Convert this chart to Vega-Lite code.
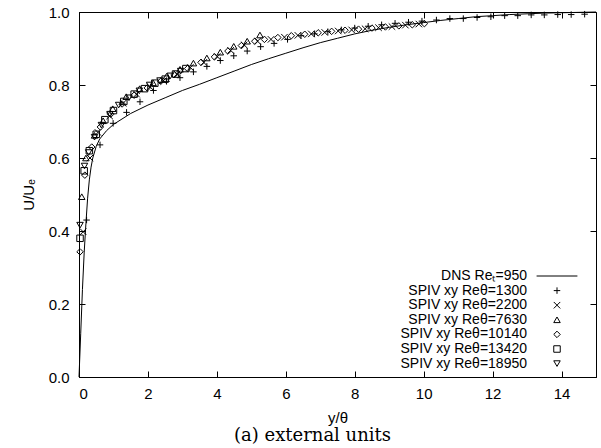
{
  "$schema": "https://vega.github.io/schema/vega-lite/v6.json",
  "width": 517,
  "height": 365,
  "autosize": "none",
  "padding": {"left": 79, "top": 12, "right": 5, "bottom": 71},
  "background": "white",
  "config": {
    "view": {"stroke": "black", "strokeWidth": 1},
    "font": "Liberation Sans",
    "axis": {
      "grid": false,
      "domainColor": "black",
      "tickColor": "black",
      "tickSize": -6,
      "tickWidth": 1,
      "labelFont": "Liberation Sans",
      "labelFontSize": 15,
      "labelColor": "black",
      "titleFont": "Liberation Sans",
      "titleFontSize": 15,
      "titleFontWeight": "normal",
      "titleColor": "black",
      "labelPadding": 10
    }
  },
  "title": {
    "text": "(a) external units",
    "orient": "bottom",
    "font": "DejaVu Serif",
    "fontSize": 18,
    "fontWeight": "normal",
    "color": "black",
    "dx": -25,
    "offset": 2
  },
  "datasets": {
    "dns": [
      {"x": 0, "u": 0}, {"x": 0.05, "u": 0.12}, {"x": 0.1, "u": 0.24}, {"x": 0.15, "u": 0.34},
      {"x": 0.2, "u": 0.42}, {"x": 0.25, "u": 0.49}, {"x": 0.3, "u": 0.54}, {"x": 0.35, "u": 0.575},
      {"x": 0.4, "u": 0.6}, {"x": 0.5, "u": 0.632}, {"x": 0.6, "u": 0.652}, {"x": 0.8, "u": 0.675},
      {"x": 1.0, "u": 0.692}, {"x": 1.5, "u": 0.722}, {"x": 2, "u": 0.745}, {"x": 2.5, "u": 0.765},
      {"x": 3, "u": 0.785}, {"x": 3.5, "u": 0.802}, {"x": 4, "u": 0.82}, {"x": 4.5, "u": 0.838},
      {"x": 5, "u": 0.856}, {"x": 5.5, "u": 0.872}, {"x": 6, "u": 0.887}, {"x": 6.5, "u": 0.902},
      {"x": 7, "u": 0.916}, {"x": 7.5, "u": 0.928}, {"x": 8, "u": 0.94}, {"x": 8.5, "u": 0.95},
      {"x": 9, "u": 0.958}, {"x": 9.5, "u": 0.965}, {"x": 10, "u": 0.971}, {"x": 10.5, "u": 0.977},
      {"x": 11, "u": 0.982}, {"x": 11.5, "u": 0.987}, {"x": 12, "u": 0.99}, {"x": 12.5, "u": 0.993},
      {"x": 13, "u": 0.995}, {"x": 13.5, "u": 0.997}, {"x": 14, "u": 0.998}, {"x": 14.5, "u": 0.999},
      {"x": 15, "u": 1.0}
    ],
    "spiv": [
      {"s": "SPIV xy Reθ=1300", "x": 0.22, "u": 0.43},
      {"s": "SPIV xy Reθ=1300", "x": 0.61, "u": 0.636},
      {"s": "SPIV xy Reθ=1300", "x": 0.99, "u": 0.695},
      {"s": "SPIV xy Reθ=1300", "x": 1.38, "u": 0.725},
      {"s": "SPIV xy Reθ=1300", "x": 1.77, "u": 0.754},
      {"s": "SPIV xy Reθ=1300", "x": 2.16, "u": 0.785},
      {"s": "SPIV xy Reθ=1300", "x": 2.54, "u": 0.81},
      {"s": "SPIV xy Reθ=1300", "x": 2.93, "u": 0.82},
      {"s": "SPIV xy Reθ=1300", "x": 3.32, "u": 0.836},
      {"s": "SPIV xy Reθ=1300", "x": 3.71, "u": 0.851},
      {"s": "SPIV xy Reθ=1300", "x": 4.1, "u": 0.867},
      {"s": "SPIV xy Reθ=1300", "x": 4.49, "u": 0.88},
      {"s": "SPIV xy Reθ=1300", "x": 4.88, "u": 0.893},
      {"s": "SPIV xy Reθ=1300", "x": 5.27, "u": 0.905},
      {"s": "SPIV xy Reθ=1300", "x": 5.66, "u": 0.914},
      {"s": "SPIV xy Reθ=1300", "x": 6.05, "u": 0.925},
      {"s": "SPIV xy Reθ=1300", "x": 6.44, "u": 0.935},
      {"s": "SPIV xy Reθ=1300", "x": 6.83, "u": 0.94},
      {"s": "SPIV xy Reθ=1300", "x": 7.22, "u": 0.946},
      {"s": "SPIV xy Reθ=1300", "x": 7.61, "u": 0.951},
      {"s": "SPIV xy Reθ=1300", "x": 8.0, "u": 0.956},
      {"s": "SPIV xy Reθ=1300", "x": 8.39, "u": 0.961},
      {"s": "SPIV xy Reθ=1300", "x": 8.78, "u": 0.965},
      {"s": "SPIV xy Reθ=1300", "x": 9.17, "u": 0.969},
      {"s": "SPIV xy Reθ=1300", "x": 9.56, "u": 0.972},
      {"s": "SPIV xy Reθ=1300", "x": 9.95, "u": 0.975},
      {"s": "SPIV xy Reθ=1300", "x": 10.37, "u": 0.978},
      {"s": "SPIV xy Reθ=1300", "x": 10.76, "u": 0.982},
      {"s": "SPIV xy Reθ=1300", "x": 11.15, "u": 0.982},
      {"s": "SPIV xy Reθ=1300", "x": 11.55, "u": 0.985},
      {"s": "SPIV xy Reθ=1300", "x": 11.95, "u": 0.987},
      {"s": "SPIV xy Reθ=1300", "x": 12.35, "u": 0.99},
      {"s": "SPIV xy Reθ=1300", "x": 12.73, "u": 0.99},
      {"s": "SPIV xy Reθ=1300", "x": 13.12, "u": 0.992},
      {"s": "SPIV xy Reθ=1300", "x": 13.5, "u": 0.992},
      {"s": "SPIV xy Reθ=1300", "x": 13.89, "u": 0.993},
      {"s": "SPIV xy Reθ=1300", "x": 14.28, "u": 0.993},
      {"s": "SPIV xy Reθ=1300", "x": 14.67, "u": 0.994},

      {"s": "SPIV xy Reθ=2200", "x": 0.12, "u": 0.398},
      {"s": "SPIV xy Reθ=2200", "x": 0.32, "u": 0.6},
      {"s": "SPIV xy Reθ=2200", "x": 0.55, "u": 0.67},
      {"s": "SPIV xy Reθ=2200", "x": 0.89, "u": 0.715},
      {"s": "SPIV xy Reθ=2200", "x": 1.28, "u": 0.75},
      {"s": "SPIV xy Reθ=2200", "x": 1.67, "u": 0.775},
      {"s": "SPIV xy Reθ=2200", "x": 2.06, "u": 0.795},
      {"s": "SPIV xy Reθ=2200", "x": 2.45, "u": 0.812},
      {"s": "SPIV xy Reθ=2200", "x": 2.84, "u": 0.83},
      {"s": "SPIV xy Reθ=2200", "x": 3.23, "u": 0.848},
      {"s": "SPIV xy Reθ=2200", "x": 3.62, "u": 0.862},
      {"s": "SPIV xy Reθ=2200", "x": 4.01, "u": 0.878},
      {"s": "SPIV xy Reθ=2200", "x": 4.4, "u": 0.895},
      {"s": "SPIV xy Reθ=2200", "x": 4.79, "u": 0.91},
      {"s": "SPIV xy Reθ=2200", "x": 5.18, "u": 0.92},
      {"s": "SPIV xy Reθ=2200", "x": 5.57, "u": 0.925},
      {"s": "SPIV xy Reθ=2200", "x": 5.96, "u": 0.931},
      {"s": "SPIV xy Reθ=2200", "x": 6.35, "u": 0.936},
      {"s": "SPIV xy Reθ=2200", "x": 6.74, "u": 0.94},
      {"s": "SPIV xy Reθ=2200", "x": 7.13, "u": 0.944},
      {"s": "SPIV xy Reθ=2200", "x": 7.52, "u": 0.948},
      {"s": "SPIV xy Reθ=2200", "x": 7.91, "u": 0.951},
      {"s": "SPIV xy Reθ=2200", "x": 8.3, "u": 0.954},
      {"s": "SPIV xy Reθ=2200", "x": 8.69, "u": 0.957},
      {"s": "SPIV xy Reθ=2200", "x": 9.08, "u": 0.96},
      {"s": "SPIV xy Reθ=2200", "x": 9.47, "u": 0.964},
      {"s": "SPIV xy Reθ=2200", "x": 9.86, "u": 0.967},

      {"s": "SPIV xy Reθ=7630", "x": 0.08, "u": 0.494},
      {"s": "SPIV xy Reθ=7630", "x": 0.2, "u": 0.6},
      {"s": "SPIV xy Reθ=7630", "x": 0.45, "u": 0.662},
      {"s": "SPIV xy Reθ=7630", "x": 0.7, "u": 0.702},
      {"s": "SPIV xy Reθ=7630", "x": 0.98, "u": 0.735},
      {"s": "SPIV xy Reθ=7630", "x": 1.37, "u": 0.768},
      {"s": "SPIV xy Reθ=7630", "x": 1.76, "u": 0.79},
      {"s": "SPIV xy Reθ=7630", "x": 2.15, "u": 0.806},
      {"s": "SPIV xy Reθ=7630", "x": 2.54, "u": 0.824},
      {"s": "SPIV xy Reθ=7630", "x": 2.93, "u": 0.843},
      {"s": "SPIV xy Reθ=7630", "x": 3.32, "u": 0.86},
      {"s": "SPIV xy Reθ=7630", "x": 3.71, "u": 0.874},
      {"s": "SPIV xy Reθ=7630", "x": 4.1, "u": 0.89},
      {"s": "SPIV xy Reθ=7630", "x": 4.49, "u": 0.906},
      {"s": "SPIV xy Reθ=7630", "x": 4.88, "u": 0.92},
      {"s": "SPIV xy Reθ=7630", "x": 5.25, "u": 0.937},

      {"s": "SPIV xy Reθ=10140", "x": 0.03, "u": 0.343},
      {"s": "SPIV xy Reθ=10140", "x": 0.17, "u": 0.553},
      {"s": "SPIV xy Reθ=10140", "x": 0.37, "u": 0.63},
      {"s": "SPIV xy Reθ=10140", "x": 0.62, "u": 0.685},
      {"s": "SPIV xy Reθ=10140", "x": 0.92, "u": 0.72},
      {"s": "SPIV xy Reθ=10140", "x": 1.25, "u": 0.748},
      {"s": "SPIV xy Reθ=10140", "x": 1.6, "u": 0.772},
      {"s": "SPIV xy Reθ=10140", "x": 1.98, "u": 0.792},
      {"s": "SPIV xy Reθ=10140", "x": 2.37, "u": 0.81},
      {"s": "SPIV xy Reθ=10140", "x": 2.76, "u": 0.828},
      {"s": "SPIV xy Reθ=10140", "x": 3.15, "u": 0.845},
      {"s": "SPIV xy Reθ=10140", "x": 3.54, "u": 0.862},
      {"s": "SPIV xy Reθ=10140", "x": 3.93, "u": 0.877},
      {"s": "SPIV xy Reθ=10140", "x": 4.32, "u": 0.893},
      {"s": "SPIV xy Reθ=10140", "x": 4.71, "u": 0.908},
      {"s": "SPIV xy Reθ=10140", "x": 5.1, "u": 0.92},
      {"s": "SPIV xy Reθ=10140", "x": 5.38, "u": 0.925},
      {"s": "SPIV xy Reθ=10140", "x": 5.77, "u": 0.93},
      {"s": "SPIV xy Reθ=10140", "x": 6.16, "u": 0.935},
      {"s": "SPIV xy Reθ=10140", "x": 6.55, "u": 0.939},
      {"s": "SPIV xy Reθ=10140", "x": 6.94, "u": 0.943},
      {"s": "SPIV xy Reθ=10140", "x": 7.33, "u": 0.947},
      {"s": "SPIV xy Reθ=10140", "x": 7.72, "u": 0.95},
      {"s": "SPIV xy Reθ=10140", "x": 8.11, "u": 0.953},
      {"s": "SPIV xy Reθ=10140", "x": 8.5, "u": 0.956},
      {"s": "SPIV xy Reθ=10140", "x": 8.89, "u": 0.959},
      {"s": "SPIV xy Reθ=10140", "x": 9.28, "u": 0.962},
      {"s": "SPIV xy Reθ=10140", "x": 9.67, "u": 0.965},
      {"s": "SPIV xy Reθ=10140", "x": 10.02, "u": 0.968},

      {"s": "SPIV xy Reθ=13420", "x": 0.03, "u": 0.38},
      {"s": "SPIV xy Reθ=13420", "x": 0.15, "u": 0.565},
      {"s": "SPIV xy Reθ=13420", "x": 0.3, "u": 0.62},
      {"s": "SPIV xy Reθ=13420", "x": 0.5, "u": 0.665},
      {"s": "SPIV xy Reθ=13420", "x": 0.75, "u": 0.705},
      {"s": "SPIV xy Reθ=13420", "x": 1.0, "u": 0.73},
      {"s": "SPIV xy Reθ=13420", "x": 1.3, "u": 0.755},
      {"s": "SPIV xy Reθ=13420", "x": 1.6, "u": 0.775},
      {"s": "SPIV xy Reθ=13420", "x": 1.9, "u": 0.79},
      {"s": "SPIV xy Reθ=13420", "x": 2.2, "u": 0.805},
      {"s": "SPIV xy Reθ=13420", "x": 2.5, "u": 0.816},
      {"s": "SPIV xy Reθ=13420", "x": 2.8, "u": 0.83},
      {"s": "SPIV xy Reθ=13420", "x": 3.1, "u": 0.845},

      {"s": "SPIV xy Reθ=18950", "x": 0.03, "u": 0.416},
      {"s": "SPIV xy Reθ=18950", "x": 0.16, "u": 0.578},
      {"s": "SPIV xy Reθ=18950", "x": 0.28, "u": 0.615},
      {"s": "SPIV xy Reθ=18950", "x": 0.45, "u": 0.657},
      {"s": "SPIV xy Reθ=18950", "x": 0.65, "u": 0.69},
      {"s": "SPIV xy Reθ=18950", "x": 0.9, "u": 0.72},
      {"s": "SPIV xy Reθ=18950", "x": 1.15, "u": 0.745},
      {"s": "SPIV xy Reθ=18950", "x": 1.45, "u": 0.765},
      {"s": "SPIV xy Reθ=18950", "x": 1.75, "u": 0.784},
      {"s": "SPIV xy Reθ=18950", "x": 2.05, "u": 0.8},
      {"s": "SPIV xy Reθ=18950", "x": 2.35, "u": 0.812},
      {"s": "SPIV xy Reθ=18950", "x": 2.65, "u": 0.825},
      {"s": "SPIV xy Reθ=18950", "x": 2.95, "u": 0.838}
    ]
  },
  "layer": [
    {
      "data": {"name": "dns"},
      "mark": {"type": "line", "color": "black", "strokeWidth": 1},
      "encoding": {
        "x": {
          "field": "x", "type": "quantitative",
          "scale": {"domain": [0, 15], "nice": false, "zero": false},
          "axis": {"orient": "bottom", "values": [0, 2, 4, 6, 8, 10, 12, 14], "title": "y/θ", "labelPadding": 15, "titlePadding": 9}
        },
        "y": {
          "field": "u", "type": "quantitative",
          "scale": {"domain": [0, 1], "nice": false},
          "axis": {"orient": "left", "values": [0, 0.2, 0.4, 0.6, 0.8, 1.0], "format": ".1f", "title": "U/Uₑ", "labelPadding": 16, "titlePadding": 12}
        }
      }
    },
    {
      "data": {"name": "spiv"},
      "mark": {"type": "point", "filled": false, "color": "black", "strokeWidth": 1, "size": 42, "opacity": 1},
      "encoding": {
        "x": {
          "field": "x", "type": "quantitative",
          "axis": {"orient": "top", "values": [0, 2, 4, 6, 8, 10, 12, 14], "labels": false, "title": null, "domain": false}
        },
        "y": {
          "field": "u", "type": "quantitative",
          "axis": {"orient": "right", "values": [0, 0.2, 0.4, 0.6, 0.8, 1.0], "labels": false, "title": null, "domain": false}
        },
        "shape": {
          "field": "s", "type": "nominal",
          "scale": {
            "domain": ["DNS Reₜ=950", "SPIV xy Reθ=1300", "SPIV xy Reθ=2200", "SPIV xy Reθ=7630", "SPIV xy Reθ=10140", "SPIV xy Reθ=13420", "SPIV xy Reθ=18950"],
            "range": ["M-6.3,0H6.3", "M-1,0H1M0,-1V1", "M-1,-1L1,1M-1,1L1,-1", "triangle-up", "diamond", "square", "triangle-down"]
          },
          "legend": {
            "title": null,
            "orient": "none",
            "legendX": 471,
            "legendY": 257,
            "padding": 0,
            "labelFont": "Liberation Sans",
            "labelFontSize": 14,
            "labelColor": "black",
            "labelAlign": "right",
            "labelOffset": -37,
            "labelLimit": 300,
            "symbolSize": 42,
            "symbolStrokeColor": "black",
            "symbolFillColor": "transparent",
            "symbolStrokeWidth": 1,
            "rowPadding": 0.6
          }
        }
      }
    }
  ],
  "resolve": {"axis": {"x": "independent", "y": "independent"}}
}
